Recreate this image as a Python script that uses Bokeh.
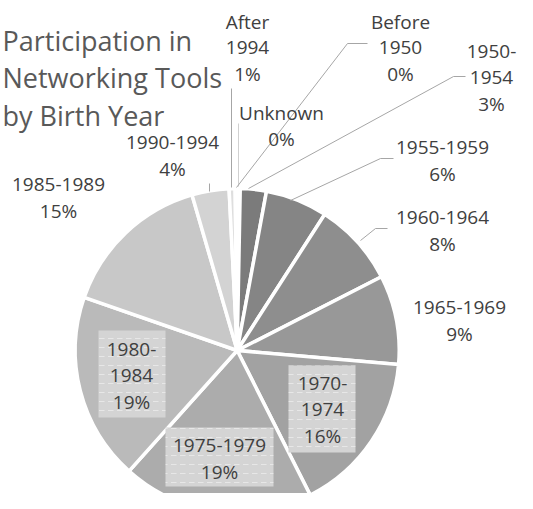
import numpy as np
from bokeh.plotting import figure
from bokeh.models import Range1d, ColumnDataSource
from bokeh.core.properties import value
from bokeh.embed import file_html
from bokeh.resources import INLINE

# ---- data ----
categories = ["Before 1950", "1950-1954", "1955-1959", "1960-1964", "1965-1969",
              "1970-1974", "1975-1979", "1980-1984", "1985-1989", "1990-1994",
              "After 1994", "Unknown"]
shares = [0.3, 2.6, 6.2, 8.4, 8.9, 16.2, 19.1, 18.7, 15.2, 3.7, 0.6, 0.2]
pct_labels = ["0%", "3%", "6%", "8%", "9%", "16%", "19%", "19%", "15%", "4%", "1%", "0%"]
title_lines = ["Participation in", "Networking Tools", "by Birth Year"]

# ---- styling / layout (pixel coordinates from the top-left corner) ----
colors = ["#6e6e6e", "#7b7b7b", "#858585", "#8e8e8e", "#989898", "#a2a2a2",
          "#acacac", "#bababa", "#c8c8c8", "#d3d3d3", "#dedede", "#e8e8e8"]
label_pos = {
    "Before 1950": (400, 21), "1950-1954": (491, 51), "1955-1959": (442, 147),
    "1960-1964": (442, 217), "1965-1969": (459, 307), "1970-1974": (322, 383),
    "1975-1979": (219, 445), "1980-1984": (131, 349), "1985-1989": (58, 184),
    "1990-1994": (172, 142), "After 1994": (247, 21), "Unknown": (281, 112),
}
wrapped = {"Before 1950", "1950-1954", "1970-1974", "1980-1984", "After 1994"}
boxes = {"1970-1974": (288, 365, 355, 452), "1975-1979": (165, 427, 273, 486),
         "1980-1984": (98, 330, 165, 417)}
leaders = [
    ([231, 231], [88, 187], "#a6a6a6"),
    ([238, 238], [123, 186], "#d0d0d0"),
    ([367, 347, 236], [43, 43, 187], "#a6a6a6"),
    ([465, 453, 248], [76, 76, 188], "#a6a6a6"),
    ([393, 380, 290], [158, 158, 200], "#a6a6a6"),
    ([387, 375, 360], [228, 228, 240], "#a6a6a6"),
    ([209, 209], [183, 191], "#a6a6a6"),
]
LINE = 26
CX, CY, R = 236.7, 350, 162

W, H = 517, 493
def Y(sy):
    return H - sy

p = figure(width=W, height=H, output_backend="svg", toolbar_location=None,
           x_range=Range1d(0, W), y_range=Range1d(0, H),
           min_border=0, outline_line_color=None, background_fill_color="white")
p.axis.visible = False
p.grid.visible = False

# pie
vals = np.array(shares, dtype=float)
frac = vals / vals.sum()
cum = np.concatenate([[0], np.cumsum(frac)])
src = ColumnDataSource(dict(
    cat=categories,
    start=np.pi / 2 - 2 * np.pi * cum[:-1],
    end=np.pi / 2 - 2 * np.pi * cum[1:],
    color=colors,
))
p.wedge(x=CX, y=Y(CY), radius=R, start_angle="start", end_angle="end",
        direction="clock", fill_color="color", line_color="white",
        line_width=3.5, source=src)

# leader lines
for xs, ys, c in leaders:
    p.line(xs, [Y(v) for v in ys], line_color=c, line_width=1)

# label boxes
for cat, (x0, y0, x1, y1) in boxes.items():
    p.quad(left=x0, right=x1, top=Y(y0), bottom=Y(y1), fill_color="#d4d4d4",
           line_color=None, hatch_pattern="horizontal_dash", hatch_color="white",
           hatch_alpha=0.45, hatch_scale=9, hatch_weight=1)

# labels
lx, ly, lt = [], [], []
for cat, pct in zip(categories, pct_labels):
    x, y0 = label_pos[cat]
    if cat in wrapped:
        parts = cat.split(" ") if " " in cat else [cat[:5], cat[5:]]
    else:
        parts = [cat]
    parts = parts + [pct]
    for i, t in enumerate(parts):
        lx.append(x)
        ly.append(Y(y0 + i * LINE))
        lt.append(t)
p.text(x=lx, y=ly, text=lt, text_align="center", text_baseline="middle",
       text_font=value("Open Sans"), text_font_size="19px", text_color="#404040")

# title, kept fully inside the canvas at the left edge
title_base = [40, 77, 115]
p.text(x=[2, 2, 2], y=[Y(v) for v in title_base], text=title_lines,
       text_align="left", text_baseline="alphabetic",
       text_font=value("Open Sans"), text_font_size="27px", text_color="#595959")

open("out.html", "w").write(file_html(p, INLINE))
